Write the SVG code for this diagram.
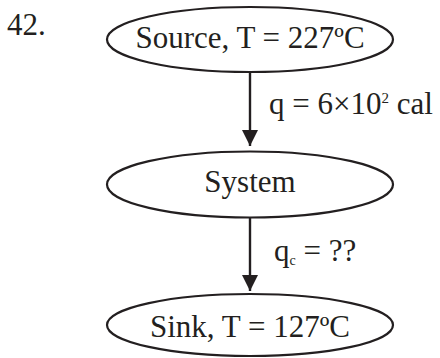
<svg xmlns="http://www.w3.org/2000/svg" width="440" height="358" viewBox="0 0 440 358">
  <defs>
    <marker id="arrow" markerWidth="16" markerHeight="16" refX="16" refY="8" orient="auto" markerUnits="userSpaceOnUse">
      <path d="M0,0 L16,8 L0,16 Z" fill="#231f20"/>
    </marker>
    <style>
      .t { font-family: "Liberation Serif", "Times New Roman", serif; font-size: 31px; fill: #231f20; }
      .node { fill: #ffffff; stroke: #231f20; stroke-width: 2.2; }
      .edge { stroke: #231f20; stroke-width: 2.4; fill: none; }
    </style>
  </defs>
  <rect width="440" height="358" fill="#ffffff"/>
  <text class="t" x="7" y="35">42.</text>
  <g id="connectors">
    <line class="edge" x1="250" y1="72" x2="250" y2="146" marker-end="url(#arrow)"/>
    <line class="edge" x1="250" y1="218" x2="250" y2="291" marker-end="url(#arrow)"/>
    <text class="t" x="269" y="114">q = 6×10<tspan font-size="15" dy="-11">2</tspan><tspan dy="11"> cal</tspan></text>
    <text class="t" x="274" y="261">q<tspan font-size="14" dy="4">c</tspan><tspan dy="-4"> = ??</tspan></text>
  </g>
  <g id="source">
    <ellipse class="node" cx="250" cy="39.5" rx="143" ry="32.5"/>
    <text class="t" x="250" y="48" text-anchor="middle">Source, T = 227ºC</text>
  </g>
  <g id="system">
    <ellipse class="node" cx="250" cy="184.5" rx="143" ry="33"/>
    <text class="t" x="250" y="192" text-anchor="middle">System</text>
  </g>
  <g id="sink">
    <ellipse class="node" cx="250" cy="325" rx="143" ry="31"/>
    <text class="t" x="250" y="337" text-anchor="middle">Sink, T = 127ºC</text>
  </g>
</svg>
